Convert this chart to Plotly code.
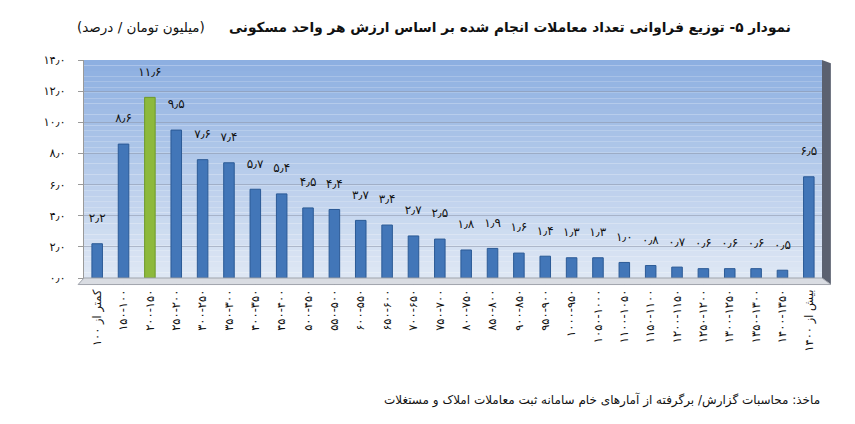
import plotly.graph_objects as go

categories = ["کمتر از ۱۰۰", "۱۵۰-۱۰۰", "۲۰۰-۱۵۰", "۲۵۰-۲۰۰", "۳۰۰-۲۵۰", "۳۵۰-۳۰۰",
              "۴۰۰-۳۵۰", "۴۵۰-۴۰۰", "۵۰۰-۴۵۰", "۵۵۰-۵۰۰", "۶۰۰-۵۵۰", "۶۵۰-۶۰۰",
              "۷۰۰-۶۵۰", "۷۵۰-۷۰۰", "۸۰۰-۷۵۰", "۸۵۰-۸۰۰", "۹۰۰-۸۵۰", "۹۵۰-۹۰۰",
              "۱۰۰۰-۹۵۰", "۱۰۵۰-۱۰۰۰", "۱۱۰۰-۱۰۵۰", "۱۱۵۰-۱۱۰۰", "۱۲۰۰-۱۱۵۰",
              "۱۲۵۰-۱۲۰۰", "۱۳۰۰-۱۲۵۰", "۱۳۵۰-۱۳۰۰", "۱۴۰۰-۱۳۵۰", "بیش از ۱۴۰۰"]
values = [2.2, 8.6, 11.6, 9.5, 7.6, 7.4, 5.7, 5.4, 4.5, 4.4,
          3.7, 3.4, 2.7, 2.5, 1.8, 1.9, 1.6, 1.4, 1.3, 1.3,
          1.0, 0.8, 0.7, 0.6, 0.6, 0.6, 0.5, 6.5]
highlight_index = 2
y_ticks = [0, 2, 4, 6, 8, 10, 12, 14]

title_main = "نمودار ۵- توزیع فراوانی تعداد معاملات انجام شده بر اساس ارزش هر واحد مسکونی"
title_unit = "(میلیون تومان / درصد)"
source_text = "ماخذ: محاسبات گزارش/ برگرفته از آمارهای خام سامانه ثبت معاملات املاک و مستغلات"

FA = str.maketrans("0123456789.", "۰۱۲۳۴۵۶۷۸۹٫")
def fa(v):
    return f"{v:.1f}".translate(FA)

FONT = "DejaVu Sans"
colors = ["#8DB93C" if i == highlight_index else "#4276B8" for i in range(len(values))]
line_colors = ["#6E9A2A" if i == highlight_index else "#2B5A96" for i in range(len(values))]

fig = go.Figure()
fig.add_trace(go.Bar(
    x=categories, y=values,
    marker=dict(color=colors, line=dict(color=line_colors, width=1)),
    width=0.4,
    text=[fa(v) + "<br> " for v in values],
    textposition="outside",
    constraintext="none",
    textfont=dict(family=FONT, size=12, color="#111111"),
    cliponaxis=False,
))

# gradient plot background
shapes = []
n = 40
top = (141, 175, 225)
bot = (222, 231, 244)
for i in range(n):
    t = i / (n - 1)
    c = tuple(int(round(top[k] + (bot[k] - top[k]) * t)) for k in range(3))
    shapes.append(dict(type="rect", xref="paper", yref="paper",
                       x0=0, x1=1, y0=1 - (i + 1) / n, y1=1 - i / n,
                       fillcolor=f"rgb{c}", line=dict(width=0), layer="below"))
# right wall
shapes.append(dict(type="path", xref="paper", yref="paper",
                   path="M 1,0 L 1.012,-0.03 L 1.012,0.985 L 1,1 Z",
                   fillcolor="#5B6170", line=dict(width=0), layer="above"))
# floor
shapes.append(dict(type="path", xref="paper", yref="paper",
                   path="M 0,0 L 1,0 L 1.012,-0.03 L -0.008,-0.03 Z",
                   fillcolor="#D9DCE2", line=dict(color="#A0A4AC", width=1), layer="above"))

L, R = 84, 33
W = 855 - L - R
fig.update_layout(
    width=855, height=424,
    margin=dict(l=L, r=R, t=60, b=146),
    paper_bgcolor="white",
    plot_bgcolor="rgba(0,0,0,0)",
    showlegend=False,
    shapes=shapes,
    xaxis=dict(
        type="category",
        tickangle=-90,
        tickfont=dict(family=FONT, size=11.5, color="#111111"),
        ticks="outside", ticklen=6, tickcolor="#9A9A9A",
        showline=False, showgrid=False,
    ),
    yaxis=dict(
        range=[0, 14],
        tickvals=y_ticks,
        ticktext=[fa(v) for v in y_ticks],
        tickfont=dict(family=FONT, size=11.5, color="#111111"),
        showgrid=True, gridcolor="rgba(140,150,170,0.55)", gridwidth=1,
        showline=True, linecolor="#9A9A9A", linewidth=1,
        ticks="outside", ticklen=5, tickcolor="#9A9A9A",
        zeroline=False,
        ticklabelstandoff=10,
    ),
    annotations=[
        dict(text="<b>" + title_main + "</b>", xref="paper", yref="paper",
             x=(793 - L) / W, y=1, yshift=33,
             xanchor="right", yanchor="middle", showarrow=False,
             font=dict(family=FONT, size=13.7, color="#111111")),
        dict(text=title_unit, xref="paper", yref="paper",
             x=(207 - L) / W, y=1, yshift=33,
             xanchor="right", yanchor="middle", showarrow=False,
             font=dict(family=FONT, size=13.5, color="#111111")),
        dict(text=source_text, xref="paper", yref="paper",
             x=(822 - L) / W, y=0, yshift=-122,
             xanchor="right", yanchor="middle", showarrow=False,
             font=dict(family=FONT, size=12, color="#111111")),
    ],
)

fig.write_html("out.html")
